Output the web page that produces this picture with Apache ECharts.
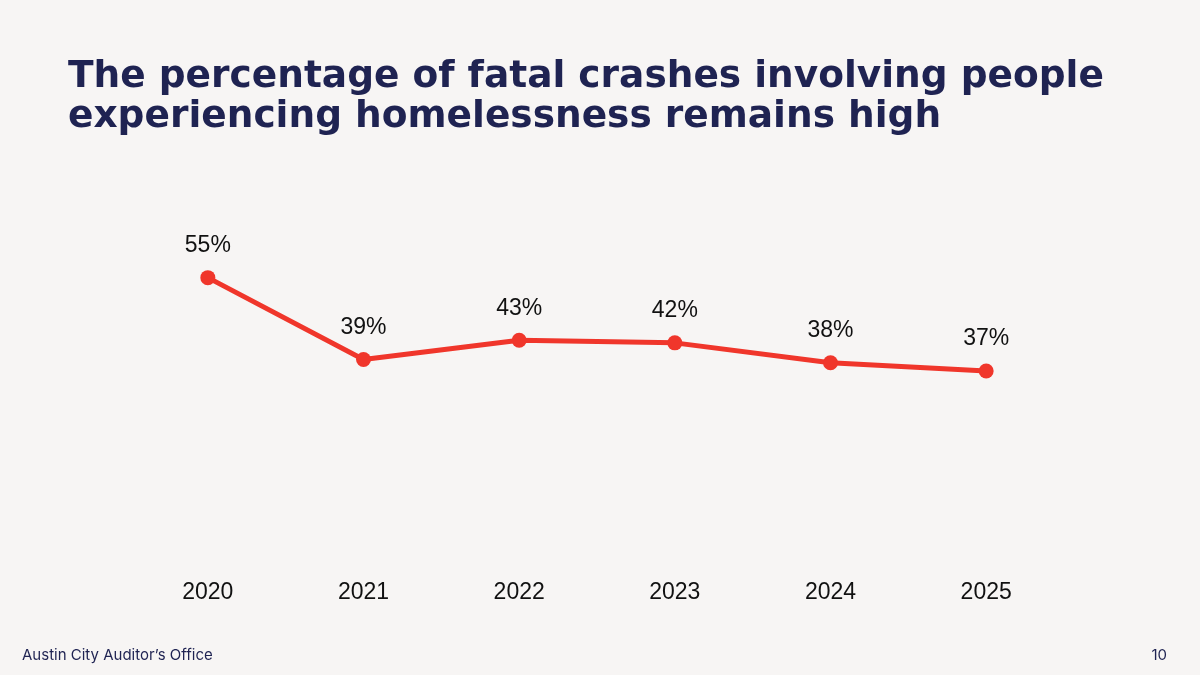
<!DOCTYPE html>
<html>
<head>
<meta charset="utf-8">
<script src="https://cdn.jsdelivr.net/npm/echarts@6/dist/echarts.min.js"></script>
<style>
  html, body { margin: 0; padding: 0; background: #f7f5f4; }
  #chart { width: 1200px; height: 675px; }
</style>
</head>
<body>
<div id="chart"></div>
<script>
const years = ["2020", "2021", "2022", "2023", "2024", "2025"];
// share of fatal crashes involving people experiencing homelessness (%)
const shares = [54.7, 39.0, 42.7, 42.2, 38.4, 36.8];

const navy = "#1f2352";
const red = "#f0362b";

var myChart = echarts.init(document.getElementById("chart"));
var option = {
  backgroundColor: "#f7f5f4",
  title: [
    {
      text: "The percentage of fatal crashes involving people\nexperiencing homelessness remains high",
      left: 63,
      top: 52,
      textStyle: {
        fontFamily: "DejaVu Sans",
        fontWeight: "bold",
        fontSize: 37.5,
        lineHeight: 40,
        color: navy,
      },
    },
    {
      text: "Austin City Auditor\u2019s Office",
      left: 17,
      top: 643,
      textStyle: {
        fontFamily: "Inter",
        fontWeight: 400,
        fontSize: 15,
        color: navy,
      },
    },
    {
      text: "10",
      right: 28,
      top: 643,
      textStyle: {
        fontFamily: "Inter",
        fontWeight: 400,
        fontSize: 15,
        color: navy,
      },
    },
  ],
  grid: {
    left: 130,
    right: 136,
    top: 250,
    bottom: 112,
  },
  xAxis: {
    type: "category",
    data: years,
    boundaryGap: true,
    axisLine: { show: false },
    axisTick: { show: false },
    axisLabel: {
      margin: 18,
      fontFamily: "Liberation Sans",
      fontSize: 23,
      color: "#111",
    },
  },
  yAxis: {
    type: "value",
    min: 0,
    max: 60,
    show: false,
  },
  series: [
    {
      type: "line",
      data: shares,
      symbol: "circle",
      symbolSize: 15,
      lineStyle: { width: 5, color: red },
      itemStyle: { color: red },
      label: {
        show: true,
        position: "top",
        distance: 13,
        fontFamily: "Liberation Sans",
        fontSize: 23,
        color: "#111",
        formatter: (p) => Math.round(p.value) + "%",
      },
    },
  ],
  animation: false,
};
myChart.setOption(option);
</script>
</body>
</html>
